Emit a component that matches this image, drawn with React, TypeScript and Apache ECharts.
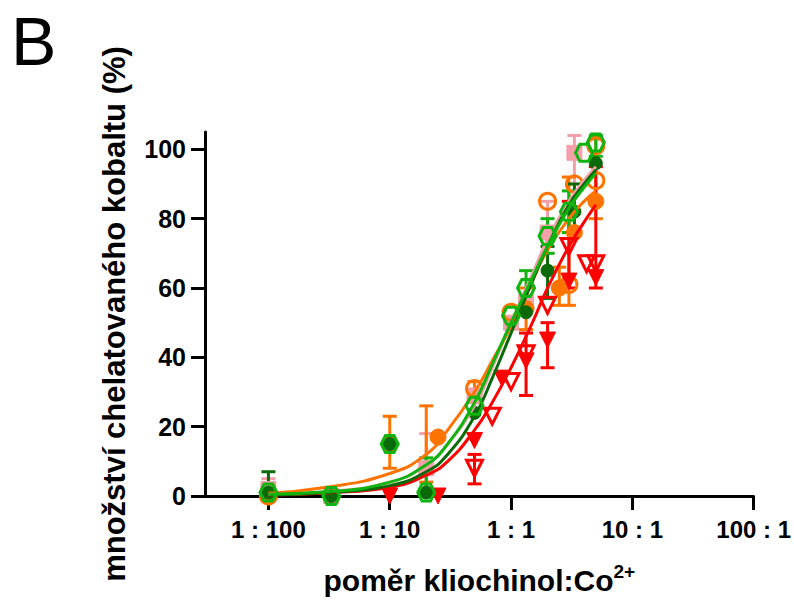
import React, { useEffect, useRef } from "react";
import * as echarts from "echarts";

// ---------- data ----------
const tickValues = [0.01, 0.1, 1, 10, 100];
const tickLabels = ["1 : 100", "1 : 10", "1 : 1", "10 : 1", "100 : 1"];
const yTickValues = [0, 20, 40, 60, 80, 100];

// pink filled squares
const pinkX = [0.01, 0.033, 0.2, 0.5, 1, 1.33, 2, 3.33];
const pinkY = [2, 0, 8, 29, 50, 56, 76, 99];
// orange open circles
const orangeOpenX = [0.01, 0.5, 1, 2, 3, 3.33, 5, 5];
const orangeOpenY = [0, 31, 53, 85, 61, 90, 91, 101];
// orange filled circles
const orangeFillX = [0.01, 0.1, 0.25, 1.33, 2.5, 3.33, 5];
const orangeFillY = [0, 15, 17, 54, 60, 76, 85];
// red filled down-triangles
const redFillX = [0.1, 0.25, 0.5, 0.84, 1.33, 2, 3, 5];
const redFillY = [0, 0, 16, 34, 39, 45, 62, 63];
// red open down-triangles
const redOpenX = [0.5, 0.7, 1, 1.33, 2, 3, 4.2, 5];
const redOpenY = [8, 23, 33, 41, 55, 72, 67, 67];
// dark green filled circles
const dkGreenX = [0.01, 0.033, 0.1, 0.2, 0.5, 1.33, 2, 3.33, 5];
const dkGreenY = [1, 0, 15, 1, 24, 53, 65, 82, 96];
// bright green open hexagons
const greenX = [0.01, 0.033, 0.1, 0.2, 0.5, 1, 1.33, 2, 3, 4, 5];
const greenY = [1, 0, 15, 1, 26, 52, 60, 75, 82, 99, 102];

// error bars: x, low, high
const errDkGreen = [[0.01, 0, 7], [2, 57, 72], [3.33, 76, 90]];
const errOrange = [[0.1, 8, 23], [0.2, 4, 26], [0.5, 27, 33], [1.33, 48, 60], [2.5, 55, 66], [3, 55, 92], [5, 80, 103]];
const errRed = [[0.5, 3.5, 12], [1.33, 29, 47], [2, 37, 50], [3, 60, 85], [5, 60, 95]];
const errGreen = [[0.2, 0, 11], [1.33, 55, 65], [2, 70, 80], [3, 76, 88], [5, 98, 104]];
const errPink = [[0.01, 0, 5], [0.2, 0, 18], [2, 70, 85], [3.33, 90, 104]];

// fitted curves
const curveX = [0.01, 0.03, 0.1, 0.2, 0.3, 0.5, 0.7, 1, 1.5, 2, 3, 4, 5];
const curveOrangeY = [0.8, 2.5, 6.5, 12, 19, 30, 39, 49, 62, 71, 80, 85, 88];
const curveRedY = [0.3, 0.9, 2.5, 6, 10, 19, 27, 37, 50, 60, 72, 79, 84];
const curvePinkY = [0.4, 1.2, 4, 9, 15, 26, 37, 50, 64, 74, 85, 91, 95];
const curveDkGreenY = [0.3, 1, 3, 7, 12, 23, 34, 47, 62, 72, 84, 90, 94];
const curveGreenY = [0.5, 1.2, 4, 9, 15, 27, 38, 50, 63, 72, 83, 89, 93];

const PINK = "#f4a0aa";
const ORANGE = "#ff7400";
const RED = "#ff0000";
const DKGREEN = "#0a6a0a";
const GREEN = "#10b410";
const FONT = "'Liberation Sans', Arial, sans-serif";

const HEX = "path://M-10,0 L-5,-8.66 L5,-8.66 L10,0 L5,8.66 L-5,8.66 Z";

const zip = (xs: number[], ys: number[]) => xs.map((x, i) => [x, ys[i]]);

function errSeries(data: number[][], color: string) {
  return {
    type: "custom",
    silent: true,
    z: 1,
    data,
    renderItem: (params: any, api: any) => {
      const x = api.value(0);
      const lo = api.coord([x, api.value(1)]);
      const hi = api.coord([x, api.value(2)]);
      const hw = 7;
      const st = { stroke: color, lineWidth: 3 };
      return {
        type: "group",
        children: [
          { type: "line", shape: { x1: lo[0], y1: lo[1], x2: hi[0], y2: hi[1] }, style: st },
          { type: "line", shape: { x1: lo[0] - hw, y1: lo[1], x2: lo[0] + hw, y2: lo[1] }, style: st },
          { type: "line", shape: { x1: hi[0] - hw, y1: hi[1], x2: hi[0] + hw, y2: hi[1] }, style: st },
        ],
      };
    },
  };
}

function scatter(xs: number[], ys: number[], symbol: string, color: string, open: boolean, size: number, rotate = 0, z = 3) {
  return {
    type: "scatter",
    data: zip(xs, ys),
    symbol,
    symbolSize: size,
    symbolRotate: rotate,
    z,
    itemStyle: open
      ? { color: "rgba(255,255,255,0)", borderColor: color, borderWidth: 3, opacity: 1 }
      : { color, borderColor: color, borderWidth: 1, opacity: 1 },
  };
}

function curve(ys: number[], color: string, z = 4) {
  return {
    type: "line",
    data: zip(curveX, ys),
    smooth: true,
    showSymbol: false,
    symbol: "none",
    z,
    lineStyle: { color, width: 3 },
  };
}

function labelFor(v: number) {
  for (let i = 0; i < tickValues.length; i++) {
    if (Math.abs(Math.log10(v) - Math.log10(tickValues[i])) < 1e-6) return tickLabels[i];
  }
  return "";
}

export default function App() {
  const ref = useRef<HTMLDivElement>(null);
  useEffect(() => {
    document.body.style.margin = "0";
    const chart = echarts.init(ref.current!, null, { renderer: "svg" });
    chart.setOption({
      animation: false,
      backgroundColor: "#fff",
      title: {
        text: "B",
        left: 6,
        top: 2,
        textStyle: { fontSize: 68, fontWeight: "normal", fontFamily: FONT, color: "#000" },
      },
      grid: { left: 205, right: 39, top: 132, bottom: 104, containLabel: false },
      xAxis: {
        type: "log",
        logBase: 10,
        min: 0.003,
        max: 100,
        axisLine: { lineStyle: { color: "#000", width: 3 } },
        axisTick: { customValues: tickValues, length: 14, lineStyle: { color: "#000", width: 3 } },
        axisLabel: {
          customValues: tickValues,
          formatter: (v: number) => labelFor(v),
          fontSize: 24,
          fontWeight: "bold",
          fontFamily: FONT,
          color: "#000",
          margin: 21,
        },
        splitLine: { show: false },
        minorTick: { show: false },
        name: "{a|poměr kliochinol:Co}{b|2+}",
        nameLocation: "middle",
        nameGap: 66,
        nameTextStyle: {
          rich: {
            a: { fontSize: 30, fontWeight: "bold", fontFamily: FONT, color: "#000", lineHeight: 36 },
            b: { fontSize: 19, fontWeight: "bold", fontFamily: FONT, color: "#000", verticalAlign: "top", lineHeight: 22 },
          },
        },
      },
      yAxis: {
        type: "value",
        min: 0,
        max: 105,
        axisLine: { show: true, lineStyle: { color: "#000", width: 3 } },
        axisTick: { show: true, customValues: yTickValues, length: 14, lineStyle: { color: "#000", width: 3 } },
        axisLabel: {
          customValues: yTickValues,
          fontSize: 25,
          fontWeight: "bold",
          fontFamily: FONT,
          color: "#000",
          margin: 19,
        },
        splitLine: { show: false },
        name: "množství chelatovaného kobaltu (%)",
        nameLocation: "middle",
        nameRotate: 90,
        nameGap: 75,
        nameTextStyle: { fontSize: 31, fontWeight: "bold", fontFamily: FONT, color: "#000" },
      },
      series: [
        errSeries(errPink, PINK),
        errSeries(errOrange, ORANGE),
        errSeries(errRed, RED),
        errSeries(errDkGreen, DKGREEN),
        errSeries(errGreen, GREEN),
        scatter(pinkX, pinkY, "rect", PINK, false, 15, 0, 2),
        scatter(orangeOpenX, orangeOpenY, "circle", ORANGE, true, 16),
        scatter(orangeFillX, orangeFillY, "circle", ORANGE, false, 16),
        scatter(redFillX, redFillY, "triangle", RED, false, 16, 180),
        scatter(redOpenX, redOpenY, "triangle", RED, true, 16, 180),
        scatter(dkGreenX, dkGreenY, "circle", DKGREEN, false, 13),
        curve(curvePinkY, PINK),
        curve(curveRedY, RED),
        curve(curveOrangeY, ORANGE),
        curve(curveDkGreenY, DKGREEN),
        curve(curveGreenY, GREEN, 5),
        scatter(greenX, greenY, HEX, GREEN, true, 17, 0, 6),
      ],
    });
    return () => chart.dispose();
  }, []);
  return <div ref={ref} style={{ width: 794, height: 600 }} />;
}
